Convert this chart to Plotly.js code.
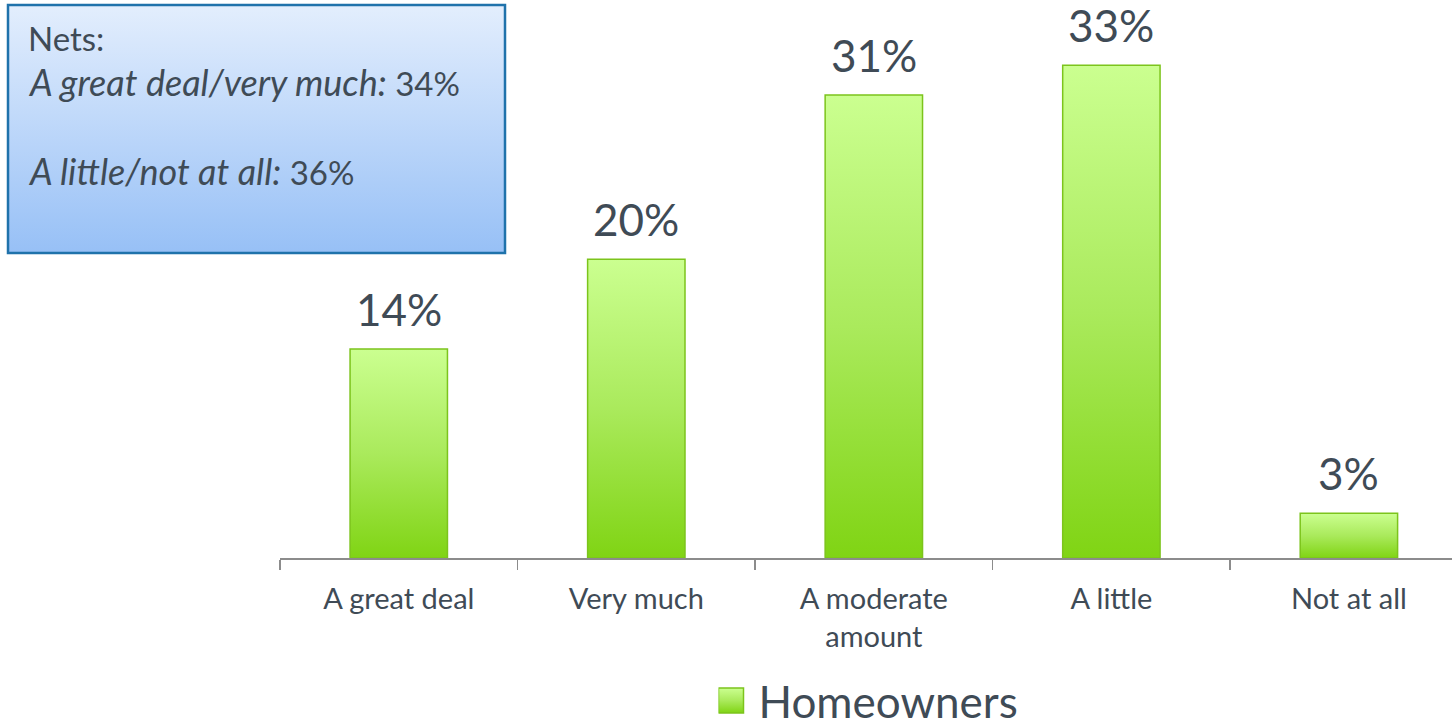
<!DOCTYPE html>
<html>
<head>
<meta charset="utf-8">
<script src="https://cdn.plot.ly/plotly-3.0.1.min.js"></script>
<style>
html,body{margin:0;padding:0;background:#fff;}
#chart{width:1452px;height:727px;}
</style>
</head>
<body>
<div id="chart"></div>
<script>
const categories = ["A great deal", "Very much", "A moderate<br>amount", "A little", "Not at all"];
const homeowners = [14, 20, 31, 33, 3];
const seriesName = "Homeowners";
const netLabels = ["A great deal/very much:", "A little/not at all:"];
const netValues = [34, 36];

const FONT = "Lato, 'Liberation Sans', sans-serif";
const TXT = "#3f4b56";

const trace = {
  type: "bar",
  x: categories,
  y: homeowners,
  name: seriesName,
  marker: {color: "#a6e85a", line: {color: "#7cc41c", width: 1.5}},
  hoverinfo: "skip",
  showlegend: true
};

const annotations = homeowners.map((v, i) => ({
  x: categories[i], y: v, xref: "x", yref: "y",
  text: v + "%", showarrow: false, yanchor: "bottom", yshift: 12,
  font: {family: FONT, size: 44, color: TXT}
}));

// Nets box text
const boxLeft = (8 - 280) / 1172;
const boxRight = (505 - 280) / 1172;
const pxToPaperY = p => (558 - p) / 558;
const textX = (26 - 280) / 1172;
const boxFont = {family: FONT, size: 33, color: TXT};
const ital = s => "<span style=\"font-size:36px\"><i>" + s + "</i></span>";
annotations.push({
  xref: "paper", yref: "paper", x: textX, y: pxToPaperY(38), xanchor: "left", yanchor: "middle",
  text: "Nets:", showarrow: false, font: boxFont
});
annotations.push({
  xref: "paper", yref: "paper", x: textX, y: pxToPaperY(82), xanchor: "left", yanchor: "middle",
  text: ital(netLabels[0]) + " " + netValues[0] + "%", showarrow: false, font: boxFont
});
annotations.push({
  xref: "paper", yref: "paper", x: textX, y: pxToPaperY(171), xanchor: "left", yanchor: "middle",
  text: ital(netLabels[1]) + " " + netValues[1] + "%", showarrow: false, font: boxFont
});

const layout = {
  width: 1452, height: 727,
  margin: {l: 280, r: 0, t: 0, b: 169, autoexpand: false},
  paper_bgcolor: "#ffffff", plot_bgcolor: "#ffffff",
  bargap: 0.59,
  font: {family: FONT, color: TXT},
  xaxis: {
    type: "category", range: [-0.5, 4.434], automargin: false,
    tickson: "boundaries", ticks: "outside", ticklen: 10, tickcolor: "#8c8c8c", tickwidth: 1.5,
    ticklabelstandoff: 14,
    showline: true, linecolor: "#8c8c8c", linewidth: 2, showgrid: false, zeroline: false,
    tickfont: {family: FONT, size: 29, color: TXT}, fixedrange: true
  },
  yaxis: {
    range: [0, 37.37], visible: false, showgrid: false, zeroline: false, fixedrange: true, automargin: false
  },
  shapes: [{
    type: "rect", xref: "paper", yref: "paper",
    x0: boxLeft, x1: boxRight, y0: pxToPaperY(253), y1: pxToPaperY(5),
    line: {color: "#1f72ab", width: 2.5}, fillcolor: "#c0d8f8", layer: "above"
  }],
  annotations: annotations,
  showlegend: true,
  legend: {
    orientation: "h", x: (871 - 280) / 1172, xanchor: "center", y: pxToPaperY(701), yanchor: "middle",
    font: {family: FONT, size: 44, color: TXT}, bgcolor: "rgba(0,0,0,0)"
  }
};

Plotly.newPlot("chart", [trace], layout, {displayModeBar: false, staticPlot: true}).then(gd => {
  const svg = gd.querySelector("svg.main-svg");
  const ns = "http://www.w3.org/2000/svg";
  let defs = svg.querySelector("defs");
  if (!defs) { defs = document.createElementNS(ns, "defs"); svg.insertBefore(defs, svg.firstChild); }
  function grad(id, stops) {
    const g = document.createElementNS(ns, "linearGradient");
    g.setAttribute("id", id);
    g.setAttribute("x1", "0"); g.setAttribute("y1", "0"); g.setAttribute("x2", "0"); g.setAttribute("y2", "1");
    stops.forEach(([o, c]) => {
      const s = document.createElementNS(ns, "stop");
      s.setAttribute("offset", o); s.setAttribute("stop-color", c);
      g.appendChild(s);
    });
    defs.appendChild(g);
  }
  grad("barGrad", [["0", "#cbff90"], ["0.5", "#aaea5c"], ["1", "#80d414"]]);
  grad("boxGrad", [["0", "#e3eefd"], ["1", "#97c0f6"]]);
  gd.querySelectorAll(".barlayer .point path").forEach(p => { p.style.fill = "url(#barGrad)"; });
  gd.querySelectorAll(".legend .legendpoints path").forEach(p => {
    p.style.fill = "url(#barGrad)";
    p.setAttribute("d", "M-12.5,-12.5H12.5V12.5H-12.5Z");
    p.setAttribute("transform", "translate(12.5,0)");
  });
  gd.querySelectorAll(".shapelayer path").forEach(p => { p.style.fill = "url(#boxGrad)"; p.style.fillOpacity = 1; });
});
</script>
</body>
</html>
